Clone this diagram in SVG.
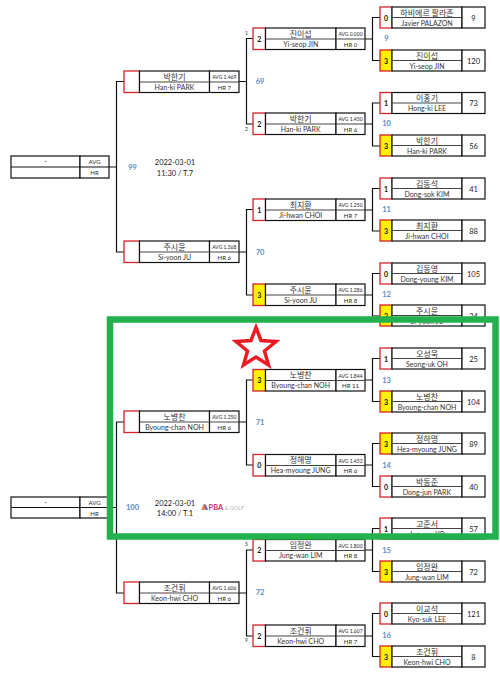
<svg xmlns="http://www.w3.org/2000/svg" width="500" height="679" viewBox="0 0 500 679">
<style>
text{font-family:"Lato","Noto Sans CJK KR",sans-serif;fill:#262626;text-anchor:middle}
.b{fill:#fff;stroke:#111;stroke-width:1.2}
.d{fill:none;stroke:#444;stroke-width:1}
.r{fill:#fff;stroke:#d2232a;stroke-width:1.3}
.y{fill:#fff200;stroke:#d2232a;stroke-width:1.3}
.c{fill:none;stroke:#111;stroke-width:1.2}
.k{font-size:8px;font-family:"Noto Sans CJK KR",sans-serif;fill:#333}
.n{font-size:7px;fill:#333}
.s{font-size:7px;font-weight:700;fill:#111}
.t{font-size:7.5px;fill:#222}
.a{font-size:5px}
.h{font-size:6px}
.q{font-size:7.5px;font-weight:700;fill:#5b8bc4}
.m{font-size:7.5px;fill:#222}
.e{font-size:5px;fill:#333}
</style>
<defs>
<g id="f4"><rect class="b" x="12" y="0" width="70" height="21"/><path class="d" d="M12 10.5H82"/><rect class="b" x="82" y="0" width="23" height="21"/></g>
<g id="f3"><rect class="b" x="12.5" y="0" width="70.5" height="21.5"/><path class="d" d="M12.5 11H112"/><rect class="b" x="83" y="0" width="29" height="21.5" fill="none"/><path class="d" d="M83 11H112"/></g>
<g id="f2"><rect class="b" x="15.5" y="0" width="70" height="21.5"/><rect class="b" x="85.5" y="0" width="29.5" height="21.5"/><path class="d" d="M15.5 11H115"/></g>
</defs>

<g id="connectors">
<path class="c" d="M365 39H372.5M380 17.5H372.5V60.5H380"/>
<path class="c" d="M365 124H372.5M380 103H372.5V146H380"/>
<path class="c" d="M365 210H372.5M380 188.5H372.5V231H380"/>
<path class="c" d="M365 295H372.5M380 273.5H372.5V316H380"/>
<path class="c" d="M365 380H372.5M380 358.5H372.5V401.500H380"/>
<path class="c" d="M365 465H372.5M380 443.500H372.5V486.500H380"/>
<path class="c" d="M365 550H372.5M380 528.500H372.500V571.500H380"/>
<path class="c" d="M365 636H372.500M380 613.500H372.500V656.500H380"/>
<path class="c" d="M239 81.500H246.500M253 38.500H246.500V124H253"/>
<path class="c" d="M239 252H246.500M253 209.500H246.500V295H253"/>
<path class="c" d="M239 422H246.500M253 380H246.500V465H253"/>
<path class="c" d="M239 593H246.500M253 550H246.500V636H253"/>
<path class="c" d="M109 167H116.500M124 81.500H116.500V252H124"/>
<path class="c" d="M109 507.500H116.500M124 422H116.500V593H124"/>
</g>

<g id="final-99"><rect class="b" x="11" y="156" width="69" height="22"/><rect class="b" x="80" y="156" width="29" height="22"/><path class="c" d="M11 167H109"/><text class="n" x="45.500" y="164">-</text><text class="h" x="94.500" y="164">AVG</text><text class="h" x="94.500" y="175">HR</text></g>
<g id="final-100"><rect class="b" x="11" y="497" width="69" height="21"/><rect class="b" x="80" y="497" width="29" height="21"/><path class="c" d="M11 507.500H109"/><text class="n" x="45.500" y="504.500">-</text><text class="h" x="94.500" y="504.500">AVG</text><text class="h" x="94.500" y="515.500">HR</text></g>

<g id="sf-1" transform="translate(124 71)"><rect class="r" width="15.500" height="21.500"/><use href="#f2"/><text class="k" x="50.500" y="8.500">박한기</text><text class="n" x="50.500" y="18.800">Han-ki PARK</text><text class="a" x="100.300" y="8">AVG 1.469</text><text class="h" x="100.300" y="18.800">HR 7</text></g>
<g id="sf-2" transform="translate(124 241)"><rect class="r" width="15.500" height="21.500"/><use href="#f2"/><text class="k" x="50.500" y="8.500">주시윤</text><text class="n" x="50.500" y="18.800">Si-yoon JU</text><text class="a" x="100.300" y="8">AVG 1.568</text><text class="h" x="100.300" y="18.800">HR 6</text></g>
<g id="sf-3" transform="translate(124 411)"><rect class="r" width="15.500" height="21.500"/><use href="#f2"/><text class="k" x="50.500" y="8.500">노병찬</text><text class="n" x="50.500" y="18.800">Byoung-chan NOH</text><text class="a" x="100.300" y="8">AVG 1.250</text><text class="h" x="100.300" y="18.800">HR 6</text></g>
<g id="sf-4" transform="translate(124 582)"><rect class="r" width="15.500" height="21.500"/><use href="#f2"/><text class="k" x="50.500" y="8.500">조건휘</text><text class="n" x="50.500" y="18.800">Keon-hwi CHO</text><text class="a" x="100.300" y="8">AVG 1.606</text><text class="h" x="100.300" y="18.800">HR 6</text></g>

<g id="qf-1" transform="translate(253 28)"><rect class="r" width="12.500" height="21.500"/><use href="#f3"/><text class="s" x="6.200" y="13.500">2</text><text class="k" x="47.700" y="8.500">진이섭</text><text class="n" x="47.700" y="18.800">Yi-seop JIN</text><text class="a" x="97.500" y="8">AVG 0.000</text><text class="h" x="97.500" y="18.800">HR 0</text></g>
<g id="qf-2" transform="translate(253 113)"><rect class="r" width="12.500" height="21.500"/><use href="#f3"/><text class="s" x="6.200" y="13.500">2</text><text class="k" x="47.700" y="8.500">박한기</text><text class="n" x="47.700" y="18.800">Han-ki PARK</text><text class="a" x="97.500" y="8">AVG 1.450</text><text class="h" x="97.500" y="18.800">HR 6</text></g>
<g id="qf-3" transform="translate(253 199)"><rect class="r" width="12.500" height="21.500"/><use href="#f3"/><text class="s" x="6.200" y="13.500">1</text><text class="k" x="47.700" y="8.500">최지환</text><text class="n" x="47.700" y="18.800">Ji-hwan CHOI</text><text class="a" x="97.500" y="8">AVG 1.250</text><text class="h" x="97.500" y="18.800">HR 7</text></g>
<g id="qf-4" transform="translate(253 284)"><rect class="y" width="12.500" height="21.500"/><use href="#f3"/><text class="s" x="6.200" y="13.500">3</text><text class="k" x="47.700" y="8.500">주시윤</text><text class="n" x="47.700" y="18.800">Si-yoon JU</text><text class="a" x="97.500" y="8">AVG 1.286</text><text class="h" x="97.500" y="18.800">HR 8</text></g>
<g id="qf-5" transform="translate(253 369.500)"><rect class="y" width="12.500" height="21.500"/><use href="#f3"/><text class="s" x="6.200" y="13.500">3</text><text class="k" x="47.700" y="8.500">노병찬</text><text class="n" x="47.700" y="18.800">Byoung-chan NOH</text><text class="a" x="97.500" y="8">AVG 1.844</text><text class="h" x="97.500" y="18.800">HR 11</text></g>
<g id="qf-6" transform="translate(253 454.500)"><rect class="r" width="12.500" height="21.500"/><use href="#f3"/><text class="s" x="6.200" y="13.500">0</text><text class="k" x="47.700" y="8.500">정해명</text><text class="n" x="47.700" y="18.800">Hea-myoung JUNG</text><text class="a" x="97.500" y="8">AVG 1.452</text><text class="h" x="97.500" y="18.800">HR 6</text></g>
<g id="qf-7" transform="translate(253 539.500)"><rect class="r" width="12.500" height="21.500"/><use href="#f3"/><text class="s" x="6.200" y="13.500">2</text><text class="k" x="47.700" y="8.500">임정완</text><text class="n" x="47.700" y="18.800">Jung-wan LIM</text><text class="a" x="97.500" y="8">AVG 1.800</text><text class="h" x="97.500" y="18.800">HR 8</text></g>
<g id="qf-8" transform="translate(253 625)"><rect class="r" width="12.500" height="21.500"/><use href="#f3"/><text class="s" x="6.200" y="13.500">2</text><text class="k" x="47.700" y="8.500">조건휘</text><text class="n" x="47.700" y="18.800">Keon-hwi CHO</text><text class="a" x="97.500" y="8">AVG 1.607</text><text class="h" x="97.500" y="18.800">HR 7</text></g>

<g id="r16-1" transform="translate(380 7)"><rect class="r" width="12" height="21"/><use href="#f4"/><text class="s" x="6" y="13.500">0</text><text class="k" x="47" y="8.500">하비에르 팔라존</text><text class="n" x="47" y="18.500">Javier PALAZON</text><text class="t" x="93.500" y="13.500">9</text></g>
<g id="r16-2" transform="translate(380 50)"><rect class="y" width="12" height="21"/><use href="#f4"/><text class="s" x="6" y="13.500">3</text><text class="k" x="47" y="8.500">진이섭</text><text class="n" x="47" y="18.500">Yi-seop JIN</text><text class="t" x="93.500" y="13.500">120</text></g>
<g id="r16-3" transform="translate(380 92.500)"><rect class="r" width="12" height="21"/><use href="#f4"/><text class="s" x="6" y="13.500">1</text><text class="k" x="47" y="8.500">이홍기</text><text class="n" x="47" y="18.500">Hong-ki LEE</text><text class="t" x="93.500" y="13.500">73</text></g>
<g id="r16-4" transform="translate(380 135)"><rect class="y" width="12" height="21"/><use href="#f4"/><text class="s" x="6" y="13.500">3</text><text class="k" x="47" y="8.500">박한기</text><text class="n" x="47" y="18.500">Han-ki PARK</text><text class="t" x="93.500" y="13.500">56</text></g>
<g id="r16-5" transform="translate(380 178)"><rect class="r" width="12" height="21"/><use href="#f4"/><text class="s" x="6" y="13.500">1</text><text class="k" x="47" y="8.500">김동석</text><text class="n" x="47" y="18.500">Dong-sok KIM</text><text class="t" x="93.500" y="13.500">41</text></g>
<g id="r16-6" transform="translate(380 220)"><rect class="y" width="12" height="21"/><use href="#f4"/><text class="s" x="6" y="13.500">3</text><text class="k" x="47" y="8.500">최지환</text><text class="n" x="47" y="18.500">Ji-hwan CHOI</text><text class="t" x="93.500" y="13.500">88</text></g>
<g id="r16-7" transform="translate(380 263)"><rect class="r" width="12" height="21"/><use href="#f4"/><text class="s" x="6" y="13.500">0</text><text class="k" x="47" y="8.500">김동영</text><text class="n" x="47" y="18.500">Dong-young KIM</text><text class="t" x="93.500" y="13.500">105</text></g>
<g id="r16-8" transform="translate(380 305)"><rect class="y" width="12" height="21"/><use href="#f4"/><text class="s" x="6" y="13.500">3</text><text class="k" x="47" y="8.500">주시윤</text><text class="n" x="47" y="18.500">Si-yoon JU</text><text class="t" x="93.500" y="13.500">24</text></g>
<g id="r16-9" transform="translate(380 348)"><rect class="r" width="12" height="21"/><use href="#f4"/><text class="s" x="6" y="13.500">1</text><text class="k" x="47" y="8.500">오성욱</text><text class="n" x="47" y="18.500">Seong-uk OH</text><text class="t" x="93.500" y="13.500">25</text></g>
<g id="r16-10" transform="translate(380 391)"><rect class="y" width="12" height="21"/><use href="#f4"/><text class="s" x="6" y="13.500">3</text><text class="k" x="47" y="8.500">노병찬</text><text class="n" x="47" y="18.500">Byoung-chan NOH</text><text class="t" x="93.500" y="13.500">104</text></g>
<g id="r16-11" transform="translate(380 433)"><rect class="y" width="12" height="21"/><use href="#f4"/><text class="s" x="6" y="13.500">3</text><text class="k" x="47" y="8.500">정하명</text><text class="n" x="47" y="18.500">Hea-myoung JUNG</text><text class="t" x="93.500" y="13.500">89</text></g>
<g id="r16-12" transform="translate(380 476)"><rect class="r" width="12" height="21"/><use href="#f4"/><text class="s" x="6" y="13.500">0</text><text class="k" x="47" y="8.500">박동준</text><text class="n" x="47" y="18.500">Dong-jun PARK</text><text class="t" x="93.500" y="13.500">40</text></g>
<g id="r16-13" transform="translate(380 518)"><rect class="r" width="12" height="21"/><use href="#f4"/><text class="s" x="6" y="13.500">1</text><text class="k" x="47" y="8.500">고준서</text><text class="n" x="47" y="18.500">Jun-seo KO</text><text class="t" x="93.500" y="13.500">57</text></g>
<g id="r16-14" transform="translate(380 561)"><rect class="y" width="12" height="21"/><use href="#f4"/><text class="s" x="6" y="13.500">3</text><text class="k" x="47" y="8.500">임정완</text><text class="n" x="47" y="18.500">Jung-wan LIM</text><text class="t" x="93.500" y="13.500">72</text></g>
<g id="r16-15" transform="translate(380 603)"><rect class="r" width="12" height="21"/><use href="#f4"/><text class="s" x="6" y="13.500">0</text><text class="k" x="47" y="8.500">이교석</text><text class="n" x="47" y="18.500">Kyo-suk LEE</text><text class="t" x="93.500" y="13.500">121</text></g>
<g id="r16-16" transform="translate(380 646)"><rect class="y" width="12" height="21"/><use href="#f4"/><text class="s" x="6" y="13.500">3</text><text class="k" x="47" y="8.500">조건휘</text><text class="n" x="47" y="18.500">Keon-hwi CHO</text><text class="t" x="93.500" y="13.500">8</text></g>

<g id="labels">
<text class="q" x="132.500" y="169.500">99</text><text class="q" x="132.500" y="510">100</text>
<text class="q" x="260" y="84">69</text><text class="q" x="260" y="255">70</text><text class="q" x="260" y="425">71</text><text class="q" x="260" y="595">72</text>
<text class="q" x="386.500" y="41">9</text><text class="q" x="386.500" y="126">10</text><text class="q" x="386.500" y="211.500">11</text><text class="q" x="386.500" y="296.500">12</text><text class="q" x="386.500" y="382.500">13</text><text class="q" x="386.500" y="467.500">14</text><text class="q" x="386.500" y="552.500">15</text><text class="q" x="386.500" y="637.500">16</text>
<text class="e" x="246.500" y="35">1</text><text class="e" x="246.500" y="130.500">2</text><text class="e" x="246.500" y="546">5</text><text class="e" x="246.500" y="642">9</text>
<text class="m" x="175" y="165">2022-03-01</text><text class="m" x="175" y="175.500">11:30 / T.7</text>
<text class="m" x="175" y="505.500">2022-03-01</text><text class="m" x="175" y="516">14:00 / T.1</text>
</g>

<g id="logo">
<path d="M201.500 510Q203 503.500 204.500 504L205 510Z" fill="#e8833a"/>
<path d="M204 504.500Q206 503 208 510H205.500Z" fill="#7a5ea8"/>
<text x="208.500" y="510" style="text-anchor:start;font-size:7.500px;font-weight:700;fill:#c9305f">PBA</text>
<text x="224.500" y="510" style="text-anchor:start;font-size:5.500px;fill:#b5b5b5">&amp; GOLF</text>
</g>

<polygon id="star" points="256,327.500 261,340.500 276,341.500 264.500,351 268.500,365 256,357 243.500,365 247.500,351 236,341.500 251,340.500" fill="none" stroke="#ed1c24" stroke-width="3.500"/>
<rect id="highlight" x="110" y="319.500" width="385.500" height="217" fill="none" stroke="#22b14c" stroke-width="6.500"/>
</svg>
